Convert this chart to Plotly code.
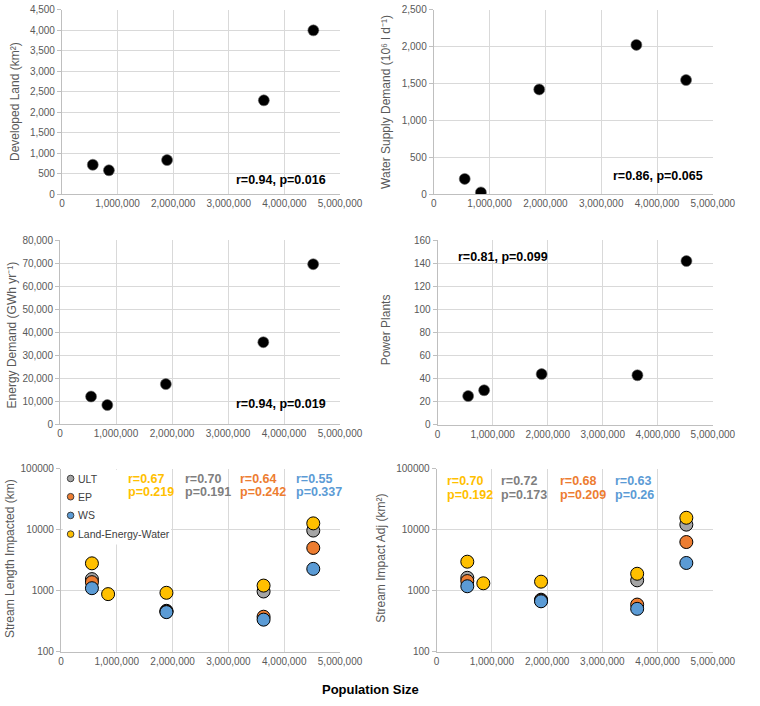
import plotly.graph_objects as go

# ---------------- data ----------------
population = [555000, 845000, 1890000, 3630000, 4520000]
developed_land = [715, 580, 830, 2290, 4000]
water_supply = [205, 22, 1420, 2025, 1548]
energy_demand = [12100, 8400, 17500, 35700, 69600]
power_plants = [25, 30, 44, 43, 142]

series_names = ["ULT", "EP", "WS", "Land-Energy-Water"]
series_colors = ["#A5A5A5", "#ED7D31", "#5B9BD5", "#FFC000"]
stat_colors = ["#FFC000", "#7F7F7F", "#ED7D31", "#5B9BD5"]

stream_length = {
    "ULT": [1550, None, 469, 972, 9680],
    "EP": [1380, None, 455, 375, 5030],
    "WS": [1100, None, 446, 336, 2280],
    "Land-Energy-Water": [2810, 880, 925, 1214, 12700],
}
stream_adj = {
    "ULT": [1630, None, 713, 1480, 12100],
    "EP": [1440, None, 690, 593, 6280],
    "WS": [1184, None, 671, 505, 2850],
    "Land-Energy-Water": [2990, 1324, 1408, 1897, 15680],
}
length_stats_r = ["r=0.67", "r=0.70", "r=0.64", "r=0.55"]
length_stats_p = ["p=0.219", "p=0.191", "p=0.242", "p=0.337"]
adj_stats_r = ["r=0.70", "r=0.72", "r=0.68", "r=0.63"]
adj_stats_p = ["p=0.192", "p=0.173", "p=0.209", "p=0.26"]

# ---------------- layout helpers ----------------
W, H = 760, 706
def xd(a, b):
    return [a / W, b / W]
def yd(top, bottom):
    return [1 - bottom / H, 1 - top / H]

FAM = "Liberation Sans, Arial, sans-serif"
TICK_FONT = dict(family=FAM, size=10, color="#595959")
TITLE_FONT = dict(family=FAM, size=12, color="#595959")
GRID = "#D9D9D9"
LINE = "#BFBFBF"

panels = [
    dict(x=(61, 349), y=(5, 192)),
    dict(x=(446, 735), y=(5, 192)),
    dict(x=(59, 349), y=(239, 426)),
    dict(x=(450, 735), y=(239, 426.5)),
    dict(x=(60, 349), y=(471, 657)),
    dict(x=(449, 735), y=(471, 657)),
]

fig = go.Figure()

def xname(i):
    return "x" if i == 1 else f"x{i}"
def yname(i):
    return "y" if i == 1 else f"y{i}"

# top four panels: black dots
simple = [developed_land, water_supply, energy_demand, power_plants]
for i, vals in enumerate(simple, start=1):
    fig.add_trace(go.Scatter(
        x=population, y=vals, mode="markers", showlegend=False,
        marker=dict(color="black", size=11, line=dict(color="#6b6b6b", width=0.6)),
        xaxis=xname(i), yaxis=yname(i), hoverinfo="x+y"))

# bottom panels: four series
for i, data in ((5, stream_length), (6, stream_adj)):
    for name, col in zip(series_names, series_colors):
        fig.add_trace(go.Scatter(
            x=population, y=data[name], mode="markers", name=name,
            showlegend=False,
            marker=dict(color=col, size=13, line=dict(color="black", width=1)),
            xaxis=xname(i), yaxis=yname(i)))

yranges = [(0, 4500, 500), (0, 2500, 500), (0, 80000, 10000), (0, 160, 20)]
layout = dict(
    width=W, height=H, margin=dict(l=0, r=0, t=0, b=0),
    paper_bgcolor="white", plot_bgcolor="white", showlegend=False,
)
for i, p in enumerate(panels, start=1):
    xa = dict(domain=xd(*p["x"]), range=[0, 5000000], dtick=1000000, tick0=0,
              tickformat=",", showgrid=True, gridcolor=GRID, gridwidth=1,
              showline=True, linecolor=LINE, linewidth=1, zeroline=False,
              ticks="", tickfont=TICK_FONT, anchor=yname(i), fixedrange=True)
    ya = dict(domain=yd(*p["y"]), showgrid=True, gridcolor=GRID, gridwidth=1,
              showline=True, linecolor=LINE, linewidth=1, zeroline=False,
              ticks="outside", ticklen=4, tickcolor=LINE, tickfont=TICK_FONT,
              anchor=xname(i), fixedrange=True)
    if i <= 4:
        lo, hi, dt = yranges[i - 1]
        ya.update(range=[lo, hi], dtick=dt, tick0=0, tickformat=",")
    else:
        ya.update(type="log", range=[2, 5], dtick=1, tickformat="d")
    layout["xaxis" if i == 1 else f"xaxis{i}"] = xa
    layout["yaxis" if i == 1 else f"yaxis{i}"] = ya
fig.update_layout(**layout)

ann = []
# y-axis titles
ytitles = [
    ("Developed Land (km²)", 13, 98),
    ("Water Supply Demand (10⁶ l d⁻¹)", 397, 98),
    ("Energy Demand (GWh yr⁻¹)", 9, 335),
    ("Power Plants", 396, 330),
    ("Stream Length Impacted (km)", 8, 562),
    ("Stream Impact Adj (km²)", 392, 562),
]
for txt, px, py in ytitles:
    ann.append(dict(text=txt, x=px / W, y=1 - py / H, xref="paper", yref="paper",
                    textangle=-90, showarrow=False, xanchor="center", yanchor="middle",
                    font=TITLE_FONT))

# correlation labels for top panels
corr = [
    ("r=0.94, p=0.016", 1, 0.788, 0.075),
    ("r=0.86, p=0.065", 2, 0.805, 0.096),
    ("r=0.94, p=0.019", 3, 0.790, 0.112),
    ("r=0.81, p=0.099", 4, 0.239, 0.911),
]
for txt, i, fx, fy in corr:
    ann.append(dict(text=txt, x=fx, y=fy, xref=f"{xname(i)} domain", yref=f"{yname(i)} domain",
                    showarrow=False, xanchor="center", yanchor="middle",
                    font=dict(family=FAM, size=12.5, color="black", weight="bold")))

# coloured stats for bottom panels
for lefts, rows, rs, ps in (((127, 186, 243, 301), (481, 495), length_stats_r, length_stats_p),
                            ((458, 514, 575, 632), (484, 498), adj_stats_r, adj_stats_p)):
    for lx, r, pv, col in zip(lefts, rs, ps, stat_colors):
        for txt, row in ((r, rows[0]), (pv, rows[1])):
            ann.append(dict(text=txt, x=lx / W, y=1 - row / H, xref="paper", yref="paper",
                            showarrow=False, xanchor="left", yanchor="middle",
                            font=dict(family=FAM, size=12.5, color=col, weight="bold")))

# shared x title
ann.append(dict(text="Population Size", x=380 / W, y=1 - 695 / H, xref="paper", yref="paper",
                showarrow=False, xanchor="center", yanchor="middle",
                font=dict(family=FAM, size=13, color="black", weight="bold")))

# legend of bottom-left panel (drawn as box, symbols and labels)
shapes = [dict(type="rect", xref="paper", yref="paper", x0=62 / W, x1=174 / W,
               y0=1 - 548 / H, y1=1 - 472 / H, fillcolor="white", line=dict(width=0),
               layer="above")]
leg_rows = [481, 499.5, 518.5, 537.5]
for name, col, row in zip(series_names, series_colors, leg_rows):
    shapes.append(dict(type="circle", xref="paper", yref="paper",
                       xsizemode="pixel", ysizemode="pixel",
                       xanchor=70 / W, yanchor=1 - row / H,
                       x0=-3.3, x1=3.3, y0=-3.3, y1=3.3,
                       fillcolor=col, line=dict(color="#404040", width=1), layer="above"))
    ann.append(dict(text=name, x=76 / W, y=1 - row / H, xref="paper", yref="paper",
                    showarrow=False, xanchor="left", yanchor="middle",
                    font=dict(family=FAM, size=10.5, color="#404040")))

fig.update_layout(annotations=ann, shapes=shapes)
fig.write_html(
    "out.html",
    config={"displayModeBar": False},
    post_script="document.body.style.margin='0';document.body.style.padding='0';",
)
